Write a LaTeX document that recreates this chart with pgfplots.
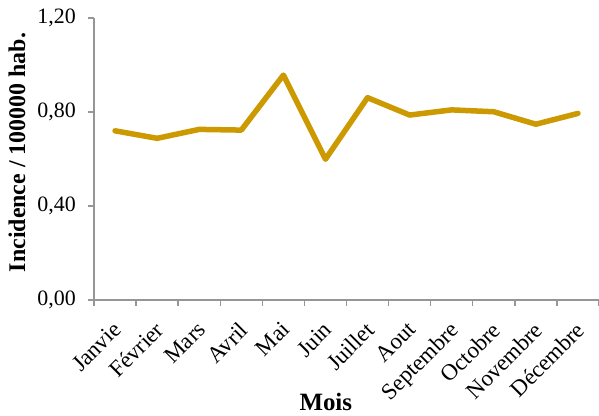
\documentclass[border=0pt]{standalone}
\usepackage{pgfplots}
\pgfplotsset{compat=1.18}
\usepackage{fontspec}
\setmainfont{Liberation Serif}
\definecolor{gold}{RGB}{204,153,0}
\definecolor{axgray}{RGB}{150,150,150}
\begin{document}
\begin{tikzpicture}[x=1bp,y=1bp]
\begin{axis}[
  scale only axis,
  width=505bp, height=282bp,
  xmin=-0.5, xmax=11.5,
  ymin=0, ymax=1.2,
  axis lines*=left,
  axis line style={axgray, line width=1.4bp},
  xtick={0,...,11},
  xticklabels={Janvie,Février,Mars,Avril,Mai,Juin,Juillet,Aout,Septembre,Octobre,Novembre,Décembre},
  minor xtick={-0.5,0.5,...,11.5},
  major x tick style={draw=none},
  minor x tick style={axgray, line width=1.4bp},
  minor tick length=6bp,
  ytick={0,0.4,0.8,1.2},
  y tick style={axgray, line width=1.4bp},
  major tick length=6bp,
  tick align=outside,
  /pgf/number format/fixed,
  /pgf/number format/fixed zerofill,
  /pgf/number format/precision=2,
  /pgf/number format/use comma,
  /pgf/number format/assume math mode=true,
  yticklabel style={font=\fontsize{22}{25}\selectfont, inner sep=0bp, xshift=-12bp},
  xticklabel style={font=\fontsize{23}{26}\selectfont, rotate=45, anchor=north east, inner sep=1bp, xshift=-11.3bp, yshift=-6.9bp},
  xlabel={\textbf{Mois}},
  xlabel style={font=\fontsize{25}{28}\selectfont, at={(axis description cs:0.459,-0.362)}, anchor=center},
  ylabel={\textbf{Incidence / 100000 hab.}},
  ylabel style={font=\fontsize{24}{27}\selectfont, at={(axis description cs:-0.1525,0.523)}, anchor=center},
  clip=false,
]
\addplot[gold, line width=5.5bp, line join=round, line cap=round] coordinates {
(0,0.720) (1,0.688) (2,0.726) (3,0.723) (4,0.957) (5,0.599)
(6,0.861) (7,0.787) (8,0.809) (9,0.801) (10,0.748) (11,0.794)
};
\end{axis}
\pgfresetboundingbox
\path (-94bp,-116bp) rectangle (505bp,300bp);
\end{tikzpicture}
\end{document}
